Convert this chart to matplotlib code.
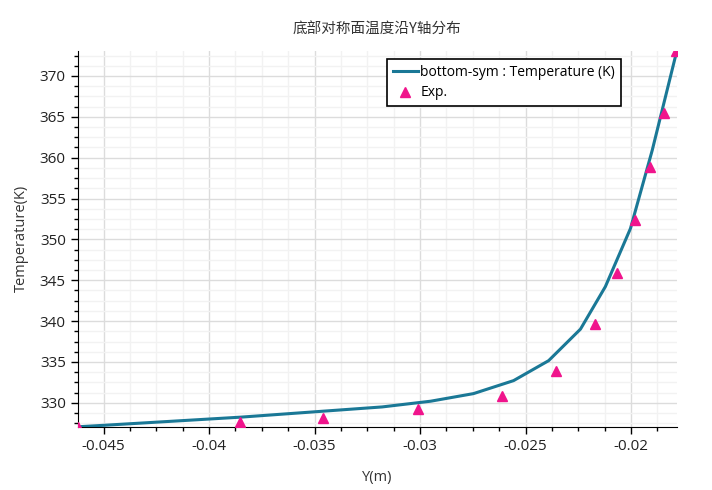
import numpy as np
import matplotlib
matplotlib.use('Agg')
import matplotlib.pyplot as plt
from matplotlib.ticker import MultipleLocator, AutoMinorLocator

plt.rcParams['font.family'] = ['Open Sans', 'Noto Sans CJK SC', 'DejaVu Sans']

# 模拟结果 (bottom-sym)
sim_y = [-0.04623, -0.0450, -0.0385, -0.0318, -0.0295, -0.02747, -0.02557,
         -0.02391, -0.0224, -0.02122, -0.02003, -0.0190, -0.01785]
sim_t = [327.07, 327.25, 328.25, 329.5, 330.2, 331.13, 332.72,
         335.16, 339.02, 344.22, 351.34, 360.9, 372.9]

# 实验数据
exp_y = [-0.04623, -0.03853, -0.03458, -0.0301, -0.02612, -0.02356,
         -0.02169, -0.02065, -0.0198, -0.01912, -0.01842, -0.01787]
exp_t = [327.1, 327.64, 328.17, 329.3, 330.8, 333.94,
         339.67, 345.93, 352.39, 358.85, 365.49, 373.05]

fig = plt.figure(figsize=(7.12, 4.9), dpi=100)
ax = fig.add_axes([0.109, 0.129, 0.842, 0.7675])

ax.plot(sim_y, sim_t, color='#1a7896', linewidth=2.2, label='bottom-sym : Temperature (K)', zorder=3)
ax.plot(exp_y, exp_t, linestyle='none', marker='^', markersize=7, color='#f0148c',
        label='Exp.', zorder=4)

ax.set_xlim(-0.04623, -0.01782)
ax.set_ylim(327.07, 373.09)

ax.xaxis.set_major_locator(MultipleLocator(0.005))
ax.xaxis.set_minor_locator(AutoMinorLocator(4))
ax.yaxis.set_major_locator(MultipleLocator(5))
ax.yaxis.set_minor_locator(AutoMinorLocator(4))
ax.xaxis.set_major_formatter(plt.FuncFormatter(lambda v, p: f'{v:g}'))

ax.grid(True, which='major', color='#dcdcdc', linewidth=1)
ax.grid(True, which='minor', color='#f2f2f2', linewidth=1)
ax.set_axisbelow(True)

for s in ['top', 'right']:
    ax.spines[s].set_visible(False)
ax.tick_params(which='major', length=5, width=1, labelsize=11, colors='black')
ax.tick_params(which='minor', length=3, width=1)
ax.tick_params(labelcolor='#222222')

ax.set_xlabel('Y(m)', fontsize=10.5, color='#333333', labelpad=12)
ax.set_ylabel('Temperature(K)', fontsize=10.5, color='#333333', labelpad=8)
ax.set_title('底部对称面温度沿Y轴分布', fontsize=10.5, color='#333333', pad=12,
             family=['Noto Sans CJK SC', 'DejaVu Sans'])

leg = ax.legend(loc='upper right', bbox_to_anchor=(0.906, 0.977),
                fontsize=10, frameon=True, fancybox=False, framealpha=1,
                edgecolor='black', borderpad=0.4, handlelength=1.8, handletextpad=0.2,
                labelspacing=0.4, borderaxespad=0)
leg.get_frame().set_linewidth(1.2)

fig.savefig('out.png', dpi=100)
